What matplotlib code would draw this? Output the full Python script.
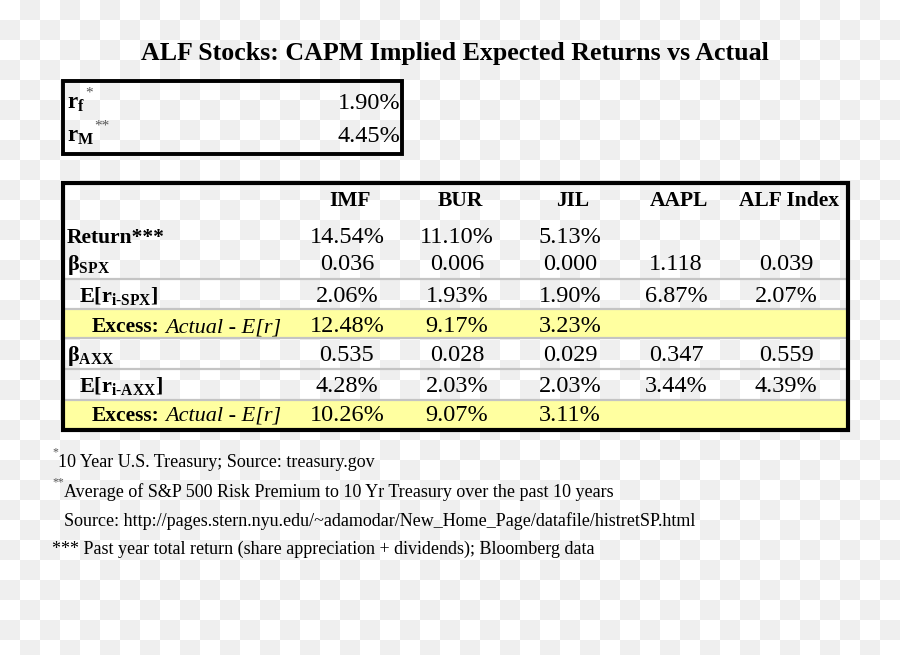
import numpy as np
import matplotlib
matplotlib.use("Agg")
import matplotlib.pyplot as plt

plt.rcParams['font.family'] = ['Liberation Serif', 'DejaVu Serif']
plt.rcParams['mathtext.fontset'] = 'custom'
plt.rcParams['mathtext.rm'] = 'Liberation Serif'
plt.rcParams['mathtext.bf'] = 'Liberation Serif:bold'
plt.rcParams['mathtext.it'] = 'Liberation Serif:italic'

# --- data ---
title = "ALF Stocks: CAPM Implied Expected Returns vs Actual"
rf = 1.90
rm = 4.45
tickers = ["IMF", "BUR", "JIL", "AAPL", "ALF Index"]
returns = [14.54, 11.10, 5.13, None, None]
beta_spx = [0.036, 0.006, 0.000, 1.118, 0.039]
er_spx = [2.06, 1.93, 1.90, 6.87, 2.07]
excess_spx = [12.48, 9.17, 3.23, None, None]
beta_axx = [0.535, 0.028, 0.029, 0.347, 0.559]
er_axx = [4.28, 2.03, 2.03, 3.44, 4.39]
excess_axx = [10.26, 9.07, 3.11, None, None]
footnotes = [
    ("*", "10 Year U.S. Treasury; Source: treasury.gov"),
    ("**", "Average of S&P 500 Risk Premium to 10 Yr Treasury over the past 10 years"),
    ("", "Source: http://pages.stern.nyu.edu/~adamodar/New_Home_Page/datafile/histretSP.html"),
    ("", "*** Past year total return (share appreciation + dividends); Bloomberg data"),
]

W, H = 900, 655
fig = plt.figure(figsize=(9, 6.55), dpi=100)
ax = fig.add_axes([0, 0, 1, 1])
ax.set_xlim(0, W)
ax.set_ylim(H, 0)
ax.axis('off')

# transparent-look checkerboard background
yy, xx = np.mgrid[0:H, 0:W]
chk = ((yy // 20 + xx // 20) % 2).astype(float)
bg = np.ones((H, W, 3))
bg[chk == 1] = 0.94
ax.imshow(bg, extent=[0, W, H, 0], aspect='auto', interpolation='nearest', zorder=0)

fs_lab = 15.5   # bold labels / headers
fs_num = 17.5   # numbers
ax.text(455, 60, title, ha='center', va='baseline', fontsize=18.6, fontweight='bold')

# --- small box with rf / rM ---
ax.add_patch(plt.Rectangle((63, 81), 339, 73, fill=False, lw=2.8, ec='black', zorder=3))
for lab, star, val, yb in [(r'$\mathbf{r}_{\mathbf{f}}$', '*', rf, 109),
                           (r'$\mathbf{r}_{\mathbf{M}}$', '**', rm, 142)]:
    t = ax.text(67, yb, lab, ha='left', va='baseline', fontsize=fs_lab + 1, zorder=4)
    ax.annotate(star, xy=(1, 1), xycoords=t, xytext=(0, 5), textcoords='offset points',
                ha='left', va='top', fontsize=11, color='#555555', zorder=4)
    ax.text(400, yb, f"{val:.2f}%", ha='right', va='baseline', fontsize=fs_num, zorder=4)

# --- main table ---
L, R, T, B = 63, 848, 183, 430
col_x = [347, 457, 570, 676, 786]
ax.add_patch(plt.Rectangle((L, T), R - L, B - T, fill=False, lw=3, ec='black', zorder=5))
for y0, y1 in [(309, 338), (400, 429)]:
    ax.add_patch(plt.Rectangle((L, y0), R - L, y1 - y0, fc='#ffffa0', ec='none', zorder=1))
for ys in [279, 309, 338, 369, 400]:
    ax.plot([L, R], [ys, ys], color='#c4c4c4', lw=1.6, zorder=2)

for x, tk in zip(col_x, tickers):
    ax.text(x + 3, 206, tk, ha='center', va='baseline', fontsize=fs_lab, fontweight='bold', zorder=4)


def pct(v):
    return "" if v is None else f"{v:.2f}%"


def num(v):
    return "" if v is None else f"{v:.3f}"


rows = [
    ("Return***", 67, [pct(v) for v in returns], 243),
    (r'$\mathbf{β}_{\mathbf{SPX}}$', 67, [num(v) for v in beta_spx], 270),
    (r'$\mathbf{E[r}_{\mathbf{i‐SPX}}\mathbf{]}$', 79, [pct(v) for v in er_spx], 302),
    (None, 92, [pct(v) for v in excess_spx], 332),
    (r'$\mathbf{β}_{\mathbf{AXX}}$', 67, [num(v) for v in beta_axx], 361),
    (r'$\mathbf{E[r}_{\mathbf{i‐AXX}}\mathbf{]}$', 79, [pct(v) for v in er_axx], 392),
    (None, 92, [pct(v) for v in excess_axx], 421),
]
for lab, lx, vals, yb in rows:
    if lab is None:
        t1 = ax.text(lx, yb, "Excess:", ha='left', va='baseline', fontsize=fs_lab,
                     fontweight='bold', zorder=4)
        ax.annotate("Actual - E[r]", xy=(1, 0), xycoords=t1, xytext=(4, 0),
                    textcoords='offset points', ha='left', va='bottom',
                    fontsize=fs_lab + 0.5, fontstyle='italic', zorder=4)
    elif lab.startswith('$'):
        ax.text(lx, yb, lab, ha='left', va='baseline', fontsize=fs_lab + 0.5, zorder=4)
    else:
        ax.text(lx, yb, lab, ha='left', va='baseline', fontsize=fs_lab,
                fontweight='bold', zorder=4)
    for x, v in zip(col_x, vals):
        ax.text(x, yb, v, ha='center', va='baseline', fontsize=fs_num, zorder=4)

# --- footnotes ---
fn_y = [467, 497, 526, 554]
for (mark, txt), yb in zip(footnotes, fn_y):
    if mark:
        ax.text(52, yb - 12, mark, ha='left', va='baseline', fontsize=8.5, color='#555555')
        ax.text(58 if mark == "*" else 64, yb, txt, ha='left', va='baseline', fontsize=13)
    elif txt.startswith("***"):
        ax.text(52, yb, txt, ha='left', va='baseline', fontsize=13)
    else:
        ax.text(64, yb, txt, ha='left', va='baseline', fontsize=13)

fig.savefig("out.png", dpi=100)
